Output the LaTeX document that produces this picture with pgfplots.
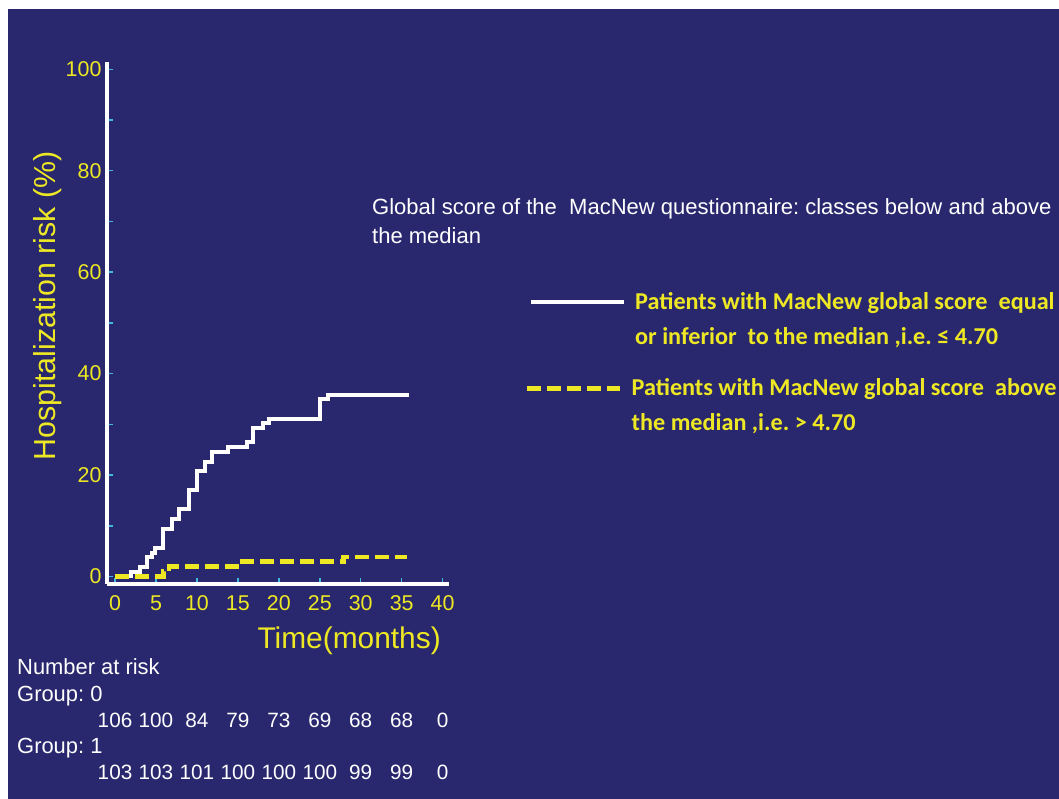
\documentclass[border=0pt]{standalone}
\usepackage{fontspec}
\setmainfont{Liberation Sans}
\newfontfamily\calibri{Carlito}
\usepackage{pgfplots}
\pgfplotsset{compat=1.18}
\definecolor{bg}{RGB}{41,40,110}
\definecolor{ylw}{RGB}{238,232,36}
\definecolor{tk}{RGB}{64,184,224}
\frenchspacing

\pgfplotstableread{
x y
0 0
1.9 0.94
3.05 1.89
3.95 3.77
4.48 4.72
4.88 5.66
5.9 9.43
6.92 11.32
7.86 13.21
9.08 16.98
10.05 20.75
11.0 22.64
11.8 24.53
13.84 25.47
16.08 26.42
16.89 29.25
18.1 30.19
18.84 31.13
25.0 34.91
26.05 35.85
35.9 35.85
}\groupzero

\pgfplotstableread{
x y
0 0
5.9 0.97
6.6 1.94
15.2 2.91
27.9 3.88
35.7 3.88
}\groupone

\pgfplotsset{
  common/.style={
    at={(107bp,215bp)}, anchor=south west,
    scale only axis, width=342.2bp, height=522.3bp,
    xmin=-0.98, xmax=40.8, ymin=-1.48, ymax=101.5,
    clip=false,
    legend style={anchor=north west, draw=none, fill=none, inner sep=0pt,
      font=\calibri\bfseries\fontsize{24.3}{35}\selectfont, text=ylw,
      cells={anchor=west}, column sep=7bp},
    legend image code/.code={\draw[##1] (0bp,4bp) -- (93bp,4bp);},
  }
}

\begin{document}
\begin{tikzpicture}
\useasboundingbox (0,0) rectangle (1059bp,799bp);
\fill[white] (0,0) rectangle (1059bp,799bp);
\fill[bg] (8bp,0) rectangle (1059bp,790bp);
\begin{axis}[
  common,
  axis x line*=bottom, axis y line*=left,
  axis line style={white, line width=3bp},
  tick align=inside,
  xtick={0,5,...,40}, ytick={0,20,...,100}, minor ytick={10,30,...,90},
  major tick length=6bp, minor tick length=6bp,
  every tick/.style={tk, line width=1.5bp},
  tick label style={font=\fontsize{21.5}{24}\selectfont, text=ylw},
  /pgf/number format/assume math mode=true,
  xticklabel style={yshift=-8bp},
  yticklabel style={xshift=-2bp},
  xlabel={Time(months)}, ylabel={Hospitalization risk (\%)},
  xlabel style={at={(axis description cs:0.7076,-0.1092)}, anchor=center, font=\fontsize{30}{36}\selectfont, text=ylw},
  ylabel style={at={(axis description cs:-0.1725,0.5326)}, anchor=center, font=\fontsize{30.5}{36}\selectfont, text=ylw},
  legend style={at={(axis description cs:1.2332,0.5763)}},
]
\addplot[const plot, white, line width=4bp] table[x=x,y=y] {\groupzero};
\addlegendentry{\begin{tabular}{@{}l@{}}Patients with MacNew global score\ \ equal\\or inferior\ \ to the median ,i.e. ≤ 4.70\end{tabular}}
\addplot[const plot, ylw, line width=4.5bp, dash pattern=on 14bp off 6bp] table[x=x,y=y] {\groupone};

\begin{scope}[every node/.style={anchor=base, text=white, font=\fontsize{20.8}{24}\selectfont, inner sep=0pt}]
\node at (axis cs:0,-29.73) {106};
\node at (axis cs:5,-29.73) {100};
\node at (axis cs:10,-29.73) {84};
\node at (axis cs:15,-29.73) {79};
\node at (axis cs:20,-29.73) {73};
\node at (axis cs:25,-29.73) {69};
\node at (axis cs:30,-29.73) {68};
\node at (axis cs:35,-29.73) {68};
\node at (axis cs:40,-29.73) {0};
\node at (axis cs:0,-40.12) {103};
\node at (axis cs:5,-40.12) {103};
\node at (axis cs:10,-40.12) {101};
\node at (axis cs:15,-40.12) {100};
\node at (axis cs:20,-40.12) {100};
\node at (axis cs:25,-40.12) {100};
\node at (axis cs:30,-40.12) {99};
\node at (axis cs:35,-40.12) {99};
\node at (axis cs:40,-40.12) {0};
\end{scope}
\end{axis}
\begin{axis}[
  common, hide axis,
  legend style={at={(axis description cs:1.2215,0.4116)}},
]
\addlegendimage{ylw, line width=4.5bp, dash pattern=on 14bp off 6bp}
\addlegendentry{\begin{tabular}{@{}l@{}}Patients with MacNew global score\ \ above\\the median ,i.e. > 4.70\end{tabular}}
\end{axis}
\begin{scope}[every node/.style={anchor=base west, inner sep=0pt, text=white, font=\fontsize{22}{24}\selectfont}]
\node at (17bp,124bp) {Number at risk};
\node at (17bp,97.3bp) {Group: 0};
\node at (17bp,45.7bp) {Group: 1};
\node[font=\fontsize{22.1}{26}\selectfont] at (372bp,584bp) {Global score of the\ \ MacNew questionnaire: classes below and above};
\node[font=\fontsize{22.1}{26}\selectfont] at (372bp,555.5bp) {the median};
\end{scope}
\end{tikzpicture}
\end{document}
